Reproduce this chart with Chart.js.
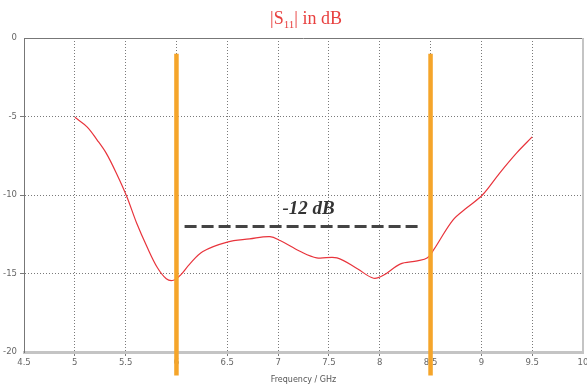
<!DOCTYPE html>
<html>
<head>
<meta charset="utf-8">
<script src="https://cdn.jsdelivr.net/npm/chart.js@4"></script>
<style>
  html, body { margin: 0; padding: 0; background: #fff; }
  #wrap { width: 587px; height: 385px; }
</style>
</head>
<body>
<div id="wrap"><canvas id="s11Chart" width="587" height="385"></canvas></div>
<script>
// values
const freqGHz = [5.0, 5.12, 5.22, 5.31, 5.41, 5.51, 5.61, 5.71, 5.81, 5.9, 5.97, 6.04, 6.13, 6.26, 6.5, 6.72, 6.92, 7.02, 7.22, 7.38, 7.58, 7.78, 7.94, 8.04, 8.2, 8.37, 8.47, 8.53, 8.72, 8.86, 9.01, 9.18, 9.35, 9.5];
const s11dB = [-5.05, -5.66, -6.5, -7.35, -8.63, -10.08, -11.82, -13.3, -14.6, -15.33, -15.43, -15.1, -14.4, -13.6, -13.0, -12.8, -12.65, -12.9, -13.6, -14.0, -14.0, -14.7, -15.3, -15.1, -14.4, -14.2, -14.0, -13.5, -11.6, -10.8, -10.0, -8.6, -7.3, -6.3];

const xTickLabels = ['4.5', '5', '5.5', '6', '6.5', '7', '7.5', '8', '8.5', '9', '9.5', '10'];
const yTickLabels = ['0', '-5', '-10', '-15', '-20'];

const markerFreqs = [6.0, 8.5];      // orange band edges
const markerSpan = [-1.0, -21.5];    // top / bottom in dB
const refLevel = -12;                // dashed reference
const refFrom = 6.08, refTo = 8.4;
const refLabel = '-12 dB';
const refLabelAt = { x: 7.3, y: -11.2 };

const ctx = document.getElementById('s11Chart').getContext('2d');

// draws the title with a real subscript, the frame and the -12 dB label
const decorations = {
    id: 'decorations',
    afterDraw(chart) {
        const c = chart.ctx;
        const a = chart.chartArea;
        c.save();
        // frame: top + right
        c.strokeStyle = '#777';
        c.lineWidth = 1;
        c.beginPath();
        c.moveTo(a.left, a.top + 0.5);
        c.lineTo(a.right, a.top + 0.5);
        c.stroke();
        c.strokeStyle = '#c4c4c4';
        c.lineWidth = 2;
        c.beginPath();
        c.moveTo(a.right, a.top);
        c.lineTo(a.right, a.bottom);
        c.stroke();

        // title |S11| in dB
        c.fillStyle = '#e8403f';
        c.textBaseline = 'alphabetic';
        const big = '18px "Liberation Serif", "Times New Roman", serif';
        const small = '11px "Liberation Serif", "Times New Roman", serif';
        c.font = big;
        const w1 = c.measureText('|S').width;
        const w3 = c.measureText('| in dB').width;
        c.font = small;
        const w2 = c.measureText('11').width;
        let x = 306 - (w1 + w2 + w3) / 2;
        const base = 24;
        c.font = big;
        c.fillText('|S', x, base);
        x += w1;
        c.font = small;
        c.fillText('11', x, base + 4);
        x += w2;
        c.font = big;
        c.fillText('| in dB', x, base);

        // reference label
        c.fillStyle = '#333';
        c.font = 'italic bold 19px "Liberation Serif", "Times New Roman", serif';
        c.textAlign = 'center';
        c.fillText(refLabel, chart.scales.x.getPixelForValue(refLabelAt.x), chart.scales.y.getPixelForValue(refLabelAt.y));
        c.restore();
    }
};

const curve = freqGHz.map((f, i) => ({ x: f, y: s11dB[i] }));

const datasets = [{
    label: '|S11|',
    data: curve,
    borderColor: '#e8343c',
    borderWidth: 1.2,
    pointRadius: 0,
    tension: 0.35,
    order: 3
}, {
    label: 'ref',
    data: [{ x: refFrom, y: refLevel }, { x: refTo, y: refLevel }],
    borderColor: '#444',
    borderWidth: 3,
    borderDash: [12, 5],
    pointRadius: 0,
    order: 2
}];

markerFreqs.forEach(f => {
    datasets.push({
        label: 'marker ' + f,
        data: [{ x: f, y: markerSpan[0] }, { x: f, y: markerSpan[1] }],
        borderColor: '#f5a52a',
        borderWidth: 4.5,
        borderCapStyle: 'butt',
        pointRadius: 0,
        clip: false,
        order: 1
    });
});

const tickFont = { family: '"DejaVu Sans", sans-serif', size: 8.5 };

new Chart(ctx, {
    type: 'line',
    data: { datasets: datasets },
    options: {
        responsive: false,
        animation: false,
        layout: { padding: { top: 38, right: 0, left: 0, bottom: 0 } },
        plugins: {
            legend: { display: false },
            tooltip: { enabled: false }
        },
        scales: {
            x: {
                type: 'linear',
                min: 4.5,
                max: 10,
                afterFit: s => { s.height = 33; s.paddingRight = 4; },
                ticks: {
                    stepSize: 0.5,
                    color: '#666',
                    font: tickFont,
                    padding: 2,
                    maxRotation: 0,
                    autoSkip: false,
                    callback: (v, i) => xTickLabels[i]
                },
                grid: {
                    color: c => (c.index === 0 || c.index === xTickLabels.length - 1) ? 'rgba(0,0,0,0)' : '#7a7a7a',
                    lineWidth: 1,
                    tickLength: 4
                },
                border: { color: '#c4c4c4', width: 3, dash: [1, 2] },
                title: {
                    display: true,
                    text: 'Frequency / GHz',
                    color: '#555',
                    font: { family: '"DejaVu Sans", sans-serif', size: 8 },
                    padding: { top: 0, bottom: 0 }
                }
            },
            y: {
                type: 'linear',
                min: -20,
                max: 0,
                afterFit: s => { s.width = 24; },
                ticks: {
                    stepSize: 5,
                    color: '#666',
                    font: tickFont,
                    padding: 3,
                    callback: (v, i) => yTickLabels[yTickLabels.length - 1 - i]
                },
                grid: {
                    color: c => (c.index === 0 || c.index === yTickLabels.length - 1) ? 'rgba(0,0,0,0)' : '#7a7a7a',
                    lineWidth: 1,
                    tickLength: 4
                },
                border: { color: '#777', width: 1, dash: [1, 2] }
            }
        }
    },
    plugins: [decorations]
});
</script>
</body>
</html>
